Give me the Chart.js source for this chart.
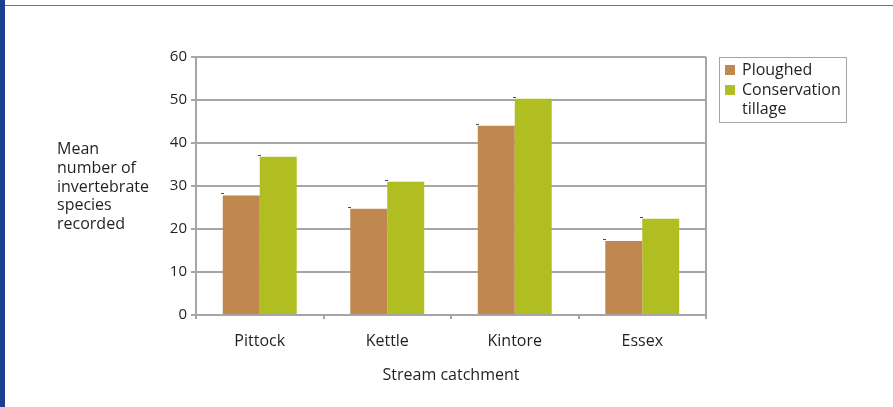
<!DOCTYPE html>
<html>
<head>
<meta charset="utf-8">
<script src="https://cdn.jsdelivr.net/npm/chart.js@4.4.1/dist/chart.umd.min.js"></script>
<style>
  html, body { margin: 0; padding: 0; background: #fff; }
  body { width: 893px; height: 407px; position: relative; overflow: hidden; font-family: "Open Sans", sans-serif; color: #231f20; }
  #leftBar { position: absolute; left: 0; top: 0; width: 5px; height: 407px; background: #1b3f8f; }
  #topRule { position: absolute; left: 5px; top: 5px; width: 888px; height: 1px; background: #2f9a6c; }
  #chartWrap { position: absolute; left: 0; top: 0; width: 893px; height: 407px; }
  #legend { position: absolute; left: 719px; top: 57px; width: 126px; height: 64px; border: 1px solid #a6a6a9; box-sizing: content-box; }
  .item { position: relative; padding-left: 22px; font-size: 16px; line-height: 19px; width: 102px; }
  .item .sw { position: absolute; left: 5px; top: 5px; width: 10px; height: 10px; }
</style>
</head>
<body>
<div id="leftBar"></div>
<div id="topRule"></div>
<div id="chartWrap"><canvas id="barChart" width="893" height="407"></canvas></div>
<div id="legend"></div>
<script>
// --- data ---
const categories = ['Pittock', 'Kettle', 'Kintore', 'Essex'];
const seriesNames = ['Ploughed', 'Conservation tillage'];
const ploughed = [27.8, 24.7, 44.0, 17.2];
const conservation = [36.8, 31.0, 50.3, 22.4];
const yTicks = [0, 10, 20, 30, 40, 50, 60];
const yTitleLines = ['Mean', 'number of', 'invertebrate', 'species', 'recorded'];
const xTitle = 'Stream catchment';

const colours = ['#c0874f', '#b0be22'];
const gridGrey = '#a6a6a9';
const textColour = '#231f20';
const fontFamily = '"Open Sans", sans-serif';

// axis titles, right frame edge and the small marks sitting on each bar
const extras = {
    id: 'extras',
    afterDatasetsDraw(chart) {
        const ctx = chart.ctx;
        const area = chart.chartArea;
        ctx.save();
        ctx.fillStyle = '#4a4a4a';
        chart.data.datasets.forEach((ds, i) => {
            chart.getDatasetMeta(i).data.forEach(bar => {
                const left = bar.x - bar.width / 2;
                ctx.fillRect(Math.round(left) - 2, Math.round(bar.y) - 2, 3, 1);
            });
        });
        ctx.strokeStyle = gridGrey;
        ctx.lineWidth = 2;
        ctx.beginPath();
        ctx.moveTo(area.right, area.top);
        ctx.lineTo(area.right, area.bottom);
        ctx.stroke();
        ctx.restore();
    },
    afterDraw(chart) {
        const ctx = chart.ctx;
        const area = chart.chartArea;
        ctx.save();
        ctx.fillStyle = textColour;
        ctx.font = '16px ' + fontFamily;
        ctx.textBaseline = 'alphabetic';
        ctx.textAlign = 'left';
        yTitleLines.forEach((line, i) => {
            ctx.fillText(line, 57, 154 + i * 18.8);
        });
        ctx.textAlign = 'center';
        ctx.textBaseline = 'middle';
        ctx.fillText(xTitle, (area.left + area.right) / 2, 375);
        ctx.restore();
    }
};

const chart = new Chart(document.getElementById('barChart'), {
    type: 'bar',
    data: {
        labels: categories,
        datasets: [
            { label: seriesNames[0], data: ploughed, backgroundColor: colours[0] },
            { label: seriesNames[1], data: conservation, backgroundColor: colours[1] }
        ]
    },
    options: {
        responsive: false,
        animation: false,
        devicePixelRatio: 1,
        layout: { padding: { left: 156, right: 187, top: 57, bottom: 52 } },
        datasets: { bar: { categoryPercentage: 0.58, barPercentage: 1.0 } },
        plugins: {
            legend: { display: false },
            tooltip: { enabled: false }
        },
        scales: {
            x: {
                afterFit: s => { s.height = 40; },
                grid: { drawOnChartArea: false, tickLength: 4, color: gridGrey, lineWidth: 2 },
                border: { color: gridGrey, width: 2 },
                ticks: { color: textColour, font: { family: fontFamily, size: 16 }, padding: 13 }
            },
            y: {
                min: 0,
                max: 60,
                afterFit: s => { s.width = 40; },
                afterBuildTicks: s => { s.ticks = yTicks.map(v => ({ value: v })); },
                grid: { color: gridGrey, lineWidth: 2, tickLength: 5 },
                border: { color: gridGrey, width: 2 },
                ticks: { color: textColour, font: { family: fontFamily, size: 15 }, padding: 4 }
            }
        }
    },
    plugins: [extras]
});

// html legend built from the datasets so the long name can wrap
const legendBox = document.getElementById('legend');
chart.data.datasets.forEach((ds, i) => {
    const item = document.createElement('div');
    item.className = 'item';
    item.style.marginTop = i === 0 ? '2px' : '1px';
    const sw = document.createElement('span');
    sw.className = 'sw';
    sw.style.background = ds.backgroundColor;
    item.appendChild(sw);
    item.appendChild(document.createTextNode(ds.label));
    legendBox.appendChild(item);
});
</script>
</body>
</html>
